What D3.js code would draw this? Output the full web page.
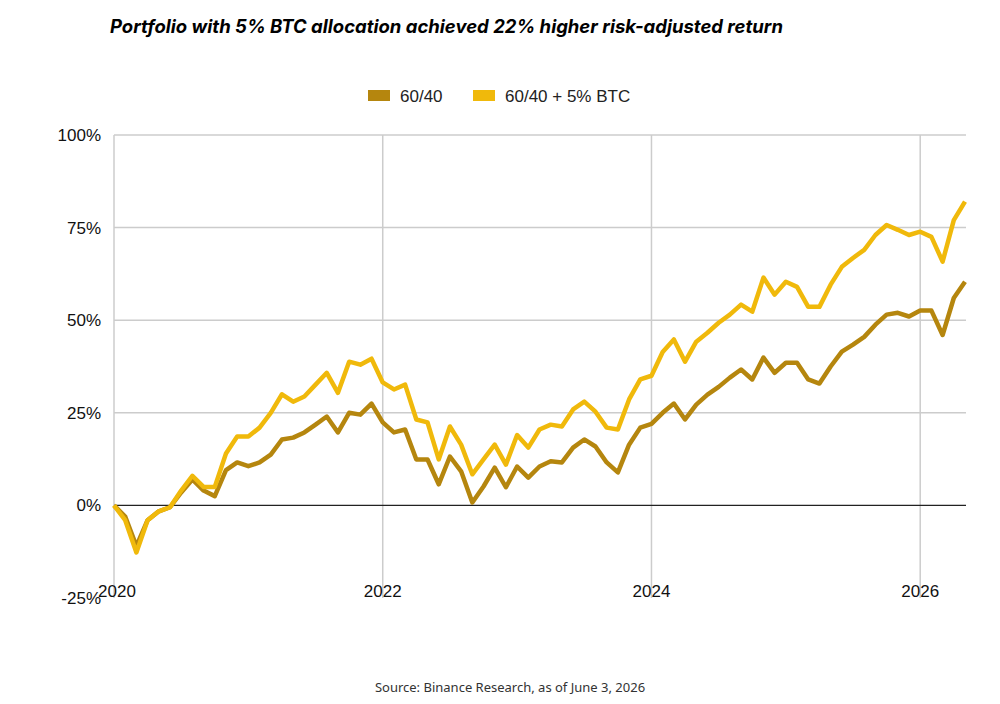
<!DOCTYPE html>
<html>
<head>
<meta charset="utf-8">
<script src="https://cdn.jsdelivr.net/npm/d3@7"></script>
<style>
body { margin: 0; background: #fff; }
text { font-family: "Liberation Sans", Arial, sans-serif; }
</style>
</head>
<body>
<svg id="chart" width="1000" height="704"></svg>
<script>
// monthly returns (%), Jan 2020 .. May 2026
var base = [0,-3,-11,-4,-1.6,-0.5,3.5,7,4,2.5,9.5,11.6,10.6,11.6,13.7,17.8,18.3,19.7,21.8,24,19.7,25,24.5,27.5,
  22.4,19.7,20.5,12.4,12.4,5.7,13.2,9.2,0.8,5.1,10.2,4.9,10.5,7.5,10.5,11.9,11.6,15.6,17.8,15.9,11.6,8.9,16.4,21,
  22,25,27.5,23.2,27.2,29.9,32,34.5,36.7,34,39.9,35.8,38.5,38.5,34,32.9,37.5,41.5,43.4,45.5,48.8,51.5,52,51,52.6,52.6,
  46,56,60.4];
var btc = [0,-4,-12.7,-4,-1.6,-0.5,4,8,5,5,14,18.6,18.6,21,25,30,28,29.4,32.6,35.8,30.4,38.8,38,39.6,
  33.2,31.3,32.6,23.2,22.4,12.4,21.3,16.4,8.4,12.4,16.4,11,19,15.6,20.5,21.8,21.3,25.9,28,25.3,21,20.5,28.6,34,
  35,41.4,44.8,38.8,44.2,46.6,49.3,51.5,54.2,52.3,61.5,56.9,60.4,59,53.6,53.6,59.6,64.4,66.8,69,73,75.7,74.4,73,73.9,72.5,
  65.8,77,82];
var yTicks = [-25, 0, 25, 50, 75, 100];
var xTicks = [0, 24, 48, 72];
var xLabels = ["2020", "2022", "2024", "2026"];
var series = [
  {name: "60/40", values: base, color: "#B5860E"},
  {name: "60/40 + 5% BTC", values: btc, color: "#F0B90B"}
];

var svg = d3.select("#chart");
var x = d3.scaleLinear().domain([0, 76]).range([114, 965]);
var y = d3.scaleLinear().domain([-25, 100]).range([598, 135]);

svg.append("text").attr("x", 110).attr("y", 33)
  .style("font-family", "Inter, 'DejaVu Sans', sans-serif")
  .style("font-size", "18.5px").style("font-weight", "bold").style("font-style", "italic")
  .text("Portfolio with 5% BTC allocation achieved 22% higher risk-adjusted return");

// grid
svg.selectAll(".hg").data(yTicks.filter(function(d){ return d > 0; })).enter().append("line")
  .attr("x1", 114).attr("x2", 966)
  .attr("y1", function(d){ return y(d); }).attr("y2", function(d){ return y(d); })
  .attr("stroke", "#cccccc").attr("stroke-width", 1.5);
svg.selectAll(".vg").data(xTicks).enter().append("line")
  .attr("x1", function(d){ return x(d); }).attr("x2", function(d){ return x(d); })
  .attr("y1", 135).attr("y2", 598)
  .attr("stroke", "#cccccc").attr("stroke-width", 1.5);
svg.append("line").attr("x1", 114).attr("x2", 966).attr("y1", y(0)).attr("y2", y(0))
  .attr("stroke", "#222").attr("stroke-width", 1.2);

svg.selectAll(".yl").data(yTicks).enter().append("text")
  .attr("x", 101).attr("y", function(d){ return y(d) + 6; })
  .attr("text-anchor", "end").style("font-size", "17px").attr("fill", "#111")
  .text(function(d){ return d + "%"; });
svg.selectAll(".xl").data(xTicks).enter().append("text")
  .attr("x", function(d, i){ return x(d) + (i === 0 ? 3 : 0); }).attr("y", 597)
  .attr("text-anchor", "middle").style("font-size", "17px").attr("fill", "#111")
  .text(function(d, i){ return xLabels[i]; });

var line = d3.line().x(function(d, i){ return x(i); }).y(function(d){ return y(d); });
series.forEach(function(s){
  svg.append("path").datum(s.values).attr("d", line)
    .attr("fill", "none").attr("stroke", s.color).attr("stroke-width", 4.5)
    .attr("stroke-linejoin", "round");
});

// legend
var lg = svg.append("g");
var lx = [368, 473];
series.forEach(function(s, i){
  lg.append("rect").attr("x", lx[i]).attr("y", 90).attr("width", 22).attr("height", 11).attr("fill", s.color);
  lg.append("text").attr("x", lx[i] + 32).attr("y", 102).style("font-size", "17px").attr("fill", "#222").text(s.name);
});

svg.append("text").attr("x", 510).attr("y", 692).attr("text-anchor", "middle")
  .style("font-family", "'Noto Sans', sans-serif").style("font-size", "13px").attr("fill", "#333")
  .text("Source: Binance Research, as of June 3, 2026");
</script>
</body>
</html>
